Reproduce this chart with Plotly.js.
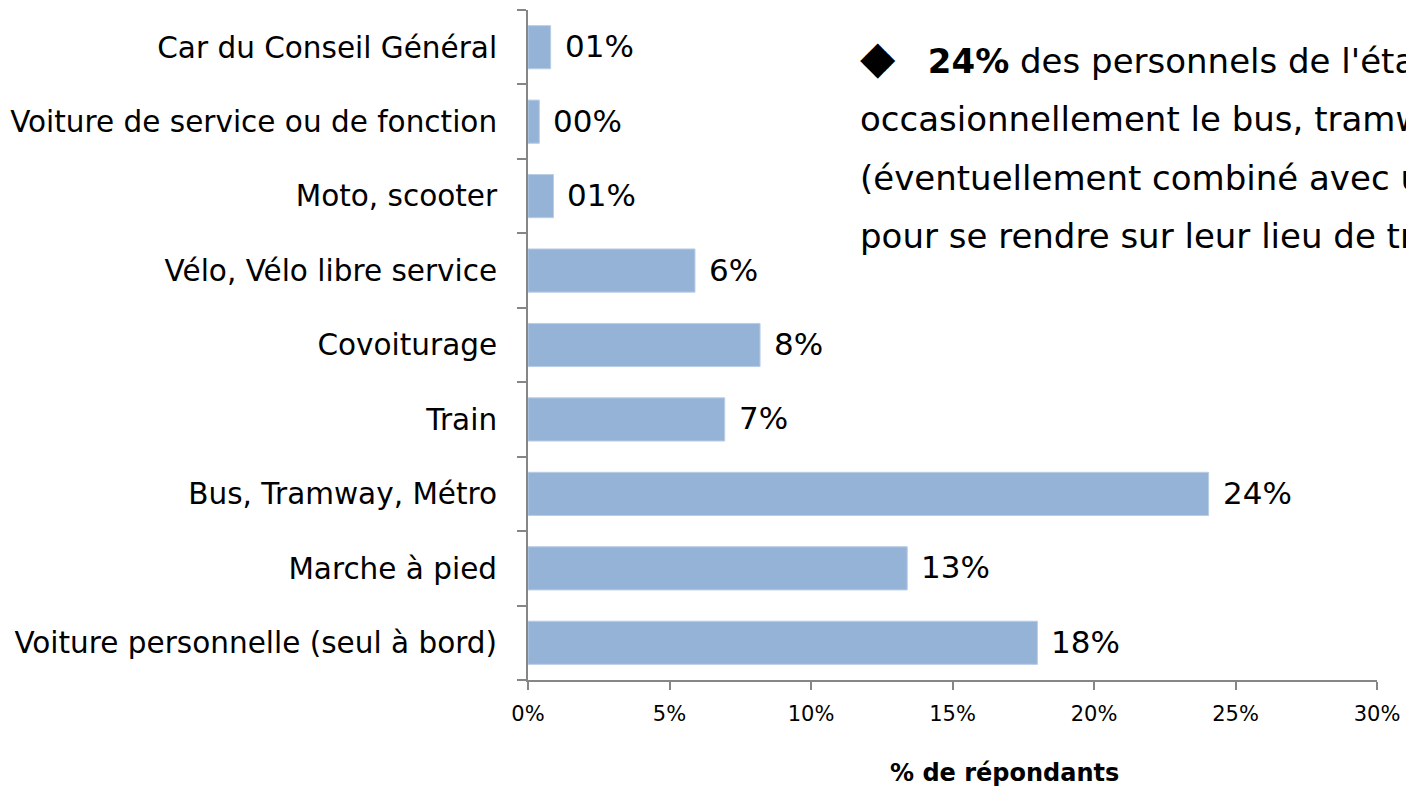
<!DOCTYPE html>
<html>
<head>
<meta charset="utf-8">
<script src="https://cdn.plot.ly/plotly-3.0.1.min.js"></script>
<style>html,body{margin:0;padding:0;background:#fff;overflow:hidden}</style>
</head>
<body>
<div id="chart" style="width:1406px;height:786px"></div>
<script>
const categories = [
  "Voiture personnelle (seul à bord)",
  "Marche à pied",
  "Bus, Tramway, Métro",
  "Train",
  "Covoiturage",
  "Vélo, Vélo libre service",
  "Moto, scooter",
  "Voiture de service ou de fonction",
  "Car du Conseil Général"
];
const values = [18.0, 13.4, 24.05, 6.95, 8.2, 5.9, 0.9, 0.4, 0.8];
const labels = ["18%", "13%", "24%", "7%", "8%", "6%", "01%", "00%", "01%"];
const tickVals = [0, 5, 10, 15, 20, 25, 30];
const tickText = ["0%", "5%", "10%", "15%", "20%", "25%", "30%"];
const xTitle = "<b>% de répondants</b>";
const noteLines = [
  "<span style='font-size:46px'>◆</span>   <b>24%</b> des personnels de l'établissement",
  "occasionnellement le bus, tramway, métro",
  "(éventuellement combiné avec un autre mode)",
  "pour se rendre sur leur lieu de travail"
];
const noteY = [57, 119, 178, 236];

const FONT = "Century Gothic, URW Gothic, DejaVu Sans, sans-serif";
const PLOT_LEFT = 528, PLOT_RIGHT = 1377, PLOT_TOP = 10, PLOT_BOTTOM = 680;
const px2x = p => (p - PLOT_LEFT) / (PLOT_RIGHT - PLOT_LEFT);
const px2y = p => (PLOT_BOTTOM - p) / (PLOT_BOTTOM - PLOT_TOP);

const trace = {
  type: "bar",
  orientation: "h",
  x: values,
  y: categories,
  marker: {color: "#95B3D7", line: {color: "#B9CDE5", width: 1}},
  hoverinfo: "skip"
};

const annotations = values.map((v, i) => ({
  x: v, y: categories[i], xref: "x", yref: "y",
  text: labels[i], showarrow: false, xanchor: "left", yanchor: "middle",
  xshift: 12, yshift: 1,
  font: {family: FONT, size: 31, color: "#000"}
}));

noteLines.forEach((line, i) => {
  annotations.push({
    xref: "paper", yref: "paper",
    x: px2x(858), y: px2y(noteY[i]),
    xanchor: "left", yanchor: "middle", align: "left",
    text: line, showarrow: false,
    font: {family: FONT, size: 34, color: "#000"}
  });
});

annotations.push({
  xref: "paper", yref: "paper",
  x: px2x(1004), y: px2y(773),
  xanchor: "center", yanchor: "middle",
  text: xTitle, showarrow: false,
  font: {family: FONT, size: 24, color: "#000"}
});

const layout = {
  width: 1406, height: 786,
  margin: {l: PLOT_LEFT, r: 1406 - PLOT_RIGHT, t: PLOT_TOP, b: 786 - PLOT_BOTTOM},
  paper_bgcolor: "#fff", plot_bgcolor: "#fff",
  showlegend: false,
  bargap: 0.42,
  font: {family: FONT, color: "#000"},
  xaxis: {
    range: [0, 30], tickvals: tickVals, ticktext: tickText,
    showgrid: false, zeroline: false,
    showline: true, linecolor: "#868686", linewidth: 2,
    ticks: "outside", ticklen: 8, tickcolor: "#868686", tickwidth: 2,
    ticklabelstandoff: 6,
    tickfont: {family: FONT, size: 21, color: "#000"}
  },
  yaxis: {
    type: "category",
    showgrid: false, zeroline: false,
    showline: true, linecolor: "#868686", linewidth: 2,
    ticks: "outside", tickson: "boundaries", ticklen: 9, tickcolor: "#868686", tickwidth: 2,
    ticklabelstandoff: 23,
    tickfont: {family: FONT, size: 29.5, color: "#000"}
  },
  annotations: annotations
};

Plotly.newPlot("chart", [trace], layout, {displayModeBar: false, staticPlot: true});
</script>
</body>
</html>
